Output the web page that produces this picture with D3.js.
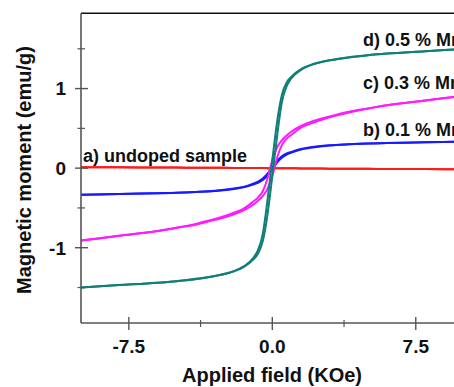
<!DOCTYPE html>
<html><head><meta charset="utf-8">
<script src="https://cdn.jsdelivr.net/npm/d3@7"></script>
<style>
html,body{margin:0;padding:0;background:#fff;overflow:hidden;}
text{font-family:"Liberation Sans",Arial,sans-serif;font-weight:bold;fill:#111;}
</style></head>
<body><svg id="c" width="454" height="387"></svg>
<script>
// Applied field grid (kOe)
const field = [-10,-8,-6,-5,-4,-3,-2,-1.5,-1,-0.75,-0.5,-0.25,-0.1,0,0.1,0.25,0.5,0.75,1,1.5,2,3,4,5,6,8,10];
// Magnetic moment (emu/g): descending (upper) and ascending (lower) branches
const undopedUpper = [0.012,0.01,0.008,0.007,0.006,0.004,0.003,0.002,0.001,0.001,0.001,0,0,0,0,0,-0.001,-0.001,-0.002,-0.003,-0.004,-0.006,-0.007,-0.009,-0.010,-0.012,-0.014];
const undopedLower = undopedUpper;
const mn01Upper = [-0.335,-0.325,-0.315,-0.31,-0.30,-0.285,-0.255,-0.235,-0.195,-0.17,-0.13,-0.07,-0.02,0.01,0.04,0.09,0.15,0.185,0.205,0.24,0.262,0.287,0.30,0.31,0.316,0.326,0.335];
const mn01Lower = [-0.335,-0.326,-0.316,-0.31,-0.30,-0.287,-0.262,-0.24,-0.205,-0.185,-0.15,-0.09,-0.04,-0.01,0.02,0.07,0.13,0.17,0.195,0.235,0.255,0.285,0.30,0.31,0.315,0.325,0.335];
const mn03Upper = [-0.91,-0.85,-0.79,-0.75,-0.70,-0.64,-0.56,-0.51,-0.42,-0.37,-0.29,-0.13,0.01,0.10,0.17,0.26,0.35,0.41,0.46,0.53,0.58,0.65,0.71,0.75,0.79,0.85,0.91];
const mn03Lower = [-0.91,-0.85,-0.79,-0.75,-0.71,-0.65,-0.58,-0.53,-0.46,-0.41,-0.35,-0.26,-0.17,-0.10,-0.01,0.13,0.29,0.37,0.42,0.51,0.56,0.64,0.70,0.75,0.79,0.85,0.91];
const mn05Upper = [-1.50,-1.47,-1.44,-1.42,-1.39,-1.355,-1.295,-1.235,-1.13,-1.03,-0.83,-0.40,-0.10,0.10,0.30,0.58,0.92,1.075,1.15,1.245,1.295,1.355,1.395,1.42,1.44,1.47,1.50];
const mn05Lower = [-1.50,-1.47,-1.44,-1.42,-1.395,-1.355,-1.295,-1.245,-1.15,-1.075,-0.92,-0.58,-0.30,-0.10,0.10,0.40,0.83,1.03,1.13,1.235,1.295,1.355,1.39,1.42,1.44,1.47,1.50];

const seriesNames = ["a) undoped sample","b) 0.1 % Mn","c) 0.3 % Mn","d) 0.5 % Mn"];
const seriesColors = ["#ff1a1a","#1a1aff","#ff1aff","#0f7f78"];
const labelPos = [[-9.9,0.075],[4.74,0.40],[4.74,0.99],[4.74,1.535]];

const xTicks = [-7.5,0,7.5];
const xTickLabels = ["-7.5","0.0","7.5"];
const xMinor = [-3.75,3.75];
const yTicks = [-1,0,1];
const yTickLabels = ["-1","0","1"];
const yMinor = [-1.5,-0.5,0.5,1.5];

const svg = d3.select("#c");
const x = d3.scaleLinear().domain([-10,10]).range([81,463.6]);
const y = d3.scaleLinear().domain([-1.946,1.946]).range([323,13.3]);

svg.append("defs").append("clipPath").attr("id","clip")
  .append("rect").attr("x",81).attr("y",13).attr("width",400).attr("height",310);

// frame top
svg.append("line").attr("x1",81).attr("x2",463.6).attr("y1",13.3).attr("y2",13.3)
  .attr("stroke","#111").attr("stroke-width",1.5);

const g = svg.append("g").attr("clip-path","url(#clip)");
const line = d3.line().x(d=>x(d[0])).y(d=>y(d[1])).curve(d3.curveMonotoneX);
const data = [[undopedUpper,undopedLower],[mn01Upper,mn01Lower],[mn03Upper,mn03Lower],[mn05Upper,mn05Lower]];
data.forEach((br,i)=>{
  br.forEach(arr=>{
    g.append("path").datum(field.map((h,k)=>[h,arr[k]]))
      .attr("d",line).attr("fill","none").attr("stroke",seriesColors[i])
      .attr("stroke-width",2);
  });
});

// axes
const axisColor = "#555";
svg.append("line").attr("x1",81).attr("x2",81).attr("y1",13.3).attr("y2",323).attr("stroke",axisColor).attr("stroke-width",1.6);
svg.append("line").attr("x1",81).attr("x2",463.6).attr("y1",323).attr("y2",323).attr("stroke",axisColor).attr("stroke-width",1.6);

yTicks.forEach((t,i)=>{
  svg.append("line").attr("x1",75).attr("x2",88).attr("y1",y(t)).attr("y2",y(t)).attr("stroke",axisColor).attr("stroke-width",1.4);
  svg.append("text").attr("x",66).attr("y",y(t)).attr("dy","0.36em").attr("text-anchor","end")
    .style("font-size","19px").text(yTickLabels[i]);
});
yMinor.forEach(t=>{
  svg.append("line").attr("x1",77.5).attr("x2",85).attr("y1",y(t)).attr("y2",y(t)).attr("stroke",axisColor).attr("stroke-width",1.2);
});
xTicks.forEach((t,i)=>{
  svg.append("line").attr("x1",x(t)).attr("x2",x(t)).attr("y1",317).attr("y2",330).attr("stroke",axisColor).attr("stroke-width",1.4);
  svg.append("text").attr("x",x(t)).attr("y",353).attr("text-anchor","middle")
    .style("font-size","19px").text(xTickLabels[i]);
});
xMinor.forEach(t=>{
  svg.append("line").attr("x1",x(t)).attr("x2",x(t)).attr("y1",320).attr("y2",327).attr("stroke",axisColor).attr("stroke-width",1.2);
});

// titles
svg.append("text").attr("x",272).attr("y",382).attr("text-anchor","middle")
  .style("font-size","20px").text("Applied field (KOe)");
svg.append("text").attr("transform","translate(31,170) rotate(-90)").attr("text-anchor","middle")
  .style("font-size","20px").text("Magnetic moment (emu/g)");

// series labels
seriesNames.forEach((n,i)=>{
  svg.append("text").attr("x",x(labelPos[i][0])).attr("y",y(labelPos[i][1]))
    .style("font-size","18px").text(n);
});
</script></body></html>
